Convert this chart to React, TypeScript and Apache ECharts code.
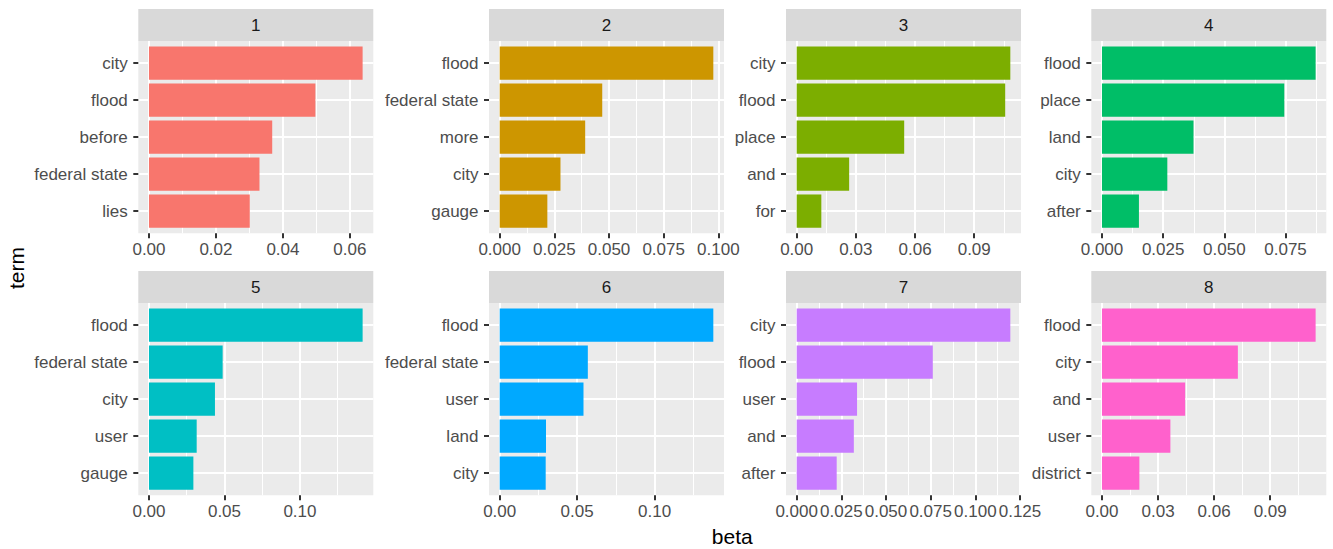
import { useEffect, useRef } from 'react';
import * as echarts from 'echarts';

const FONT = '"Liberation Sans", Arial, Helvetica, sans-serif';

// ---- data ----
const topicLabels = ['1', '2', '3', '4', '5', '6', '7', '8'];

const terms1 = ['city', 'flood', 'before', 'federal state', 'lies'];
const beta1 = [0.0638, 0.0497, 0.0368, 0.033, 0.0301];
const ticks1 = ['0.00', '0.02', '0.04', '0.06'];

const terms2 = ['flood', 'federal state', 'more', 'city', 'gauge'];
const beta2 = [0.0977, 0.0469, 0.0391, 0.0278, 0.0218];
const ticks2 = ['0.000', '0.025', '0.050', '0.075', '0.100'];

const terms3 = ['city', 'flood', 'place', 'and', 'for'];
const beta3 = [0.1083, 0.1057, 0.0545, 0.0266, 0.0125];
const ticks3 = ['0.00', '0.03', '0.06', '0.09'];

const terms4 = ['flood', 'place', 'land', 'city', 'after'];
const beta4 = [0.0873, 0.0745, 0.0374, 0.0267, 0.0151];
const ticks4 = ['0.000', '0.025', '0.050', '0.075'];

const terms5 = ['flood', 'federal state', 'city', 'user', 'gauge'];
const beta5 = [0.1415, 0.0488, 0.0437, 0.0316, 0.0294];
const ticks5 = ['0.00', '0.05', '0.10'];

const terms6 = ['flood', 'federal state', 'user', 'land', 'city'];
const beta6 = [0.1379, 0.0569, 0.0541, 0.0299, 0.0297];
const ticks6 = ['0.00', '0.05', '0.10'];

const terms7 = ['city', 'flood', 'user', 'and', 'after'];
const beta7 = [0.1196, 0.0762, 0.0338, 0.032, 0.0224];
const ticks7 = ['0.000', '0.025', '0.050', '0.075', '0.100', '0.125'];

const terms8 = ['flood', 'city', 'and', 'user', 'district'];
const beta8 = [0.1143, 0.0727, 0.0445, 0.0366, 0.02];
const ticks8 = ['0.00', '0.03', '0.06', '0.09'];

const allTerms = [terms1, terms2, terms3, terms4, terms5, terms6, terms7, terms8];
const allBetas = [beta1, beta2, beta3, beta4, beta5, beta6, beta7, beta8];
const allTicks = [ticks1, ticks2, ticks3, ticks4, ticks5, ticks6, ticks7, ticks8];

const colors = ['#F8766D', '#CD9600', '#7CAE00', '#00BE67', '#00BFC4', '#00A9FF', '#C77CFF', '#FF61CC'];

// ---- layout ----
const COL_LEFT = [138.3, 489, 786, 1091.3];
const ROW_TOP = [41, 303];
const PANEL_W = 235;
const PANEL_H = 192.3;
const STRIP_H = 32;

export default function App() {
  const ref = useRef<HTMLDivElement>(null);

  useEffect(() => {
    if (!ref.current) return;
    const chart = echarts.init(ref.current, null, { renderer: 'svg' });

    const grids: any[] = [];
    const xAxes: any[] = [];
    const yAxes: any[] = [];
    const series: any[] = [];
    const graphics: any[] = [];

    for (let p = 0; p < 8; p++) {
      const col = p % 4;
      const row = Math.floor(p / 4);
      const left = COL_LEFT[col];
      const top = ROW_TOP[row];
      const vals = allBetas[p];
      const terms = allTerms[p];
      const tickLabels = allTicks[p];
      const maxv = Math.max(...vals);
      const xmin = -0.05 * maxv;
      const xmax = 1.05 * maxv;
      const majors = tickLabels.map(Number);
      const step = majors[1] - majors[0];
      const minors: number[] = [];
      majors.forEach((m) => {
        const v = m + step / 2;
        if (v > xmin && v < xmax) minors.push(v);
      });
      const cats = terms.map((_, i) => i);
      const color = colors[p];

      grids.push({
        left,
        top,
        width: PANEL_W,
        height: PANEL_H,
        show: true,
        backgroundColor: '#EBEBEB',
        borderWidth: 0,
        containLabel: false,
        outerBoundsMode: 'none',
      });

      xAxes.push({
        type: 'value',
        gridIndex: p,
        min: xmin,
        max: xmax,
        position: 'bottom',
        axisLine: { show: false, onZero: false },
        axisTick: {
          show: true,
          length: 5,
          customValues: majors,
          lineStyle: { color: '#333333', width: 2 },
        },
        axisLabel: {
          customValues: majors,
          hideOverlap: false,
          margin: 8,
          color: '#4D4D4D',
          fontSize: 17,
          fontFamily: FONT,
          formatter: (v: number) => {
            const idx = majors.findIndex((m) => Math.abs(m - v) < 1e-9);
            return idx >= 0 ? tickLabels[idx] : '';
          },
        },
        splitLine: { show: true, lineStyle: { color: '#FFFFFF', width: 2 } },
      });

      xAxes.push({
        type: 'value',
        gridIndex: p,
        min: xmin,
        max: xmax,
        position: 'top',
        axisLine: { show: false, onZero: false },
        axisTick: { show: false, customValues: minors },
        axisLabel: { show: false, customValues: minors },
        splitLine: { show: true, lineStyle: { color: '#FFFFFF', width: 1 } },
      });

      yAxes.push({
        type: 'value',
        gridIndex: p,
        inverse: true,
        min: -0.6,
        max: 4.6,
        axisLine: { show: false, onZero: false },
        axisTick: {
          show: true,
          length: 5,
          customValues: cats,
          lineStyle: { color: '#333333', width: 2 },
        },
        axisLabel: {
          customValues: cats,
          hideOverlap: false,
          margin: 10.5,
          color: '#4D4D4D',
          fontSize: 17,
          fontFamily: FONT,
          formatter: (v: number) => terms[Math.round(v)] ?? '',
        },
        splitLine: { show: true, lineStyle: { color: '#FFFFFF', width: 2 } },
      });

      series.push({
        type: 'custom',
        xAxisIndex: 2 * p,
        yAxisIndex: p,
        silent: true,
        data: vals.map((v, i) => [v, i]),
        encode: { x: 0, y: 1 },
        renderItem: (_params: any, api: any) => {
          const v = api.value(0);
          const i = api.value(1);
          const p0 = api.coord([0, i - 0.45]);
          const p1 = api.coord([v, i + 0.45]);
          return {
            type: 'rect',
            shape: {
              x: p0[0],
              y: Math.min(p0[1], p1[1]),
              width: p1[0] - p0[0],
              height: Math.abs(p1[1] - p0[1]),
            },
            style: { fill: color },
          };
        },
      });

      graphics.push({
        type: 'rect',
        silent: true,
        shape: { x: left, y: top - STRIP_H, width: PANEL_W, height: STRIP_H },
        style: { fill: '#D9D9D9' },
      });
      graphics.push({
        type: 'text',
        silent: true,
        x: left + PANEL_W / 2,
        y: top - STRIP_H / 2,
        style: {
          text: topicLabels[p],
          fill: '#1A1A1A',
          fontSize: 17,
          fontFamily: FONT,
          align: 'center',
          verticalAlign: 'middle',
          textAlign: 'center',
          textVerticalAlign: 'middle',
        },
      });
    }

    graphics.push({
      type: 'text',
      silent: true,
      x: 16,
      y: 268,
      rotation: Math.PI / 2,
      style: {
        text: 'term',
        fill: '#000000',
        fontSize: 21,
        fontFamily: FONT,
        align: 'center',
        verticalAlign: 'middle',
        textAlign: 'center',
        textVerticalAlign: 'middle',
      },
    });
    graphics.push({
      type: 'text',
      silent: true,
      x: (COL_LEFT[0] + COL_LEFT[3] + PANEL_W) / 2,
      y: 536,
      style: {
        text: 'beta',
        fill: '#000000',
        fontSize: 21,
        fontFamily: FONT,
        align: 'center',
        verticalAlign: 'middle',
        textAlign: 'center',
        textVerticalAlign: 'middle',
      },
    });

    chart.setOption({
      animation: false,
      backgroundColor: '#FFFFFF',
      grid: grids,
      xAxis: xAxes,
      yAxis: yAxes,
      series,
      graphic: { elements: graphics },
    });

    return () => {
      chart.dispose();
    };
  }, []);

  return (
    <div
      ref={ref}
      style={{ position: 'absolute', left: 0, top: 0, width: '1333px', height: '549px' }}
    />
  );
}
